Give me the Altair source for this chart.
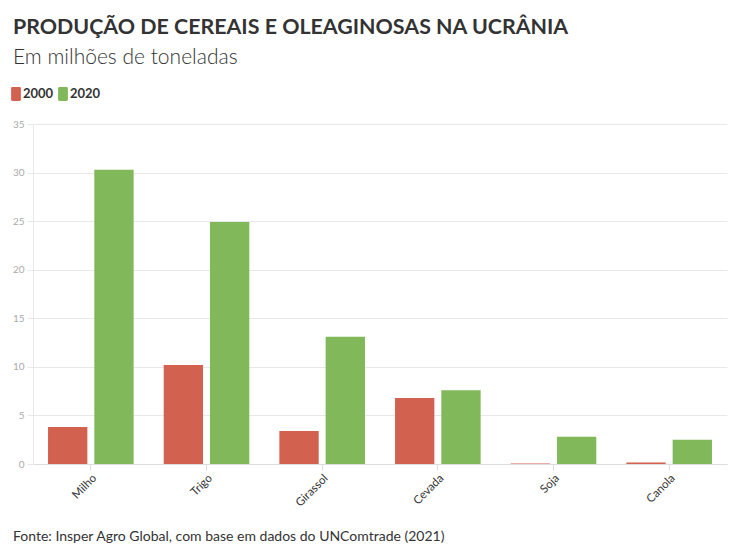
import altair as alt
import pandas as pd

categories = ["Milho", "Trigo", "Girassol", "Cevada", "Soja", "Canola"]
years = ["2000", "2020"]
values_2000 = [3.8, 10.2, 3.4, 6.8, 0.05, 0.15]
values_2020 = [30.3, 24.9, 13.1, 7.6, 2.8, 2.5]
colors = ["#d36150", "#80b85a"]
footer_text = ["Fonte: Insper Agro Global, com base em dados do UNComtrade (2021)"]

rows = []
for c, a, b in zip(categories, values_2000, values_2020):
    rows.append({"cat": c, "ano": "2000", "v": a})
    rows.append({"cat": c, "ano": "2020", "v": b})
df = pd.DataFrame(rows)

FONT = "Lato"
W, H = 694, 340

bars = alt.Chart(df).mark_bar().encode(
    x=alt.X("cat:N", sort=categories,
            scale=alt.Scale(paddingInner=0.26, paddingOuter=0.13),
            axis=alt.Axis(title=None, labelAngle=-45, labelFontSize=11.5, labelColor="#333333",
                          labelFont=FONT, tickColor="#dddddd", tickSize=6,
                          domainColor="#dddddd", labelPadding=2)),
    xOffset=alt.XOffset("ano:N", sort=years, scale=alt.Scale(paddingInner=0.15)),
    y=alt.Y("v:Q", scale=alt.Scale(domain=[0, 35], nice=False),
            axis=alt.Axis(title=None, values=[0, 5, 10, 15, 20, 25, 30, 35],
                          labelColor="#aaaaaa", labelFontSize=10, labelFont=FONT,
                          gridColor="#e8e8e8", tickColor="#e8e8e8", domainColor="#e8e8e8",
                          tickSize=6, labelPadding=3)),
    color=alt.Color("ano:N", sort=years, scale=alt.Scale(domain=years, range=colors),
                    legend=alt.Legend(title=None, orient="none", legendX=-24, legendY=-37,
                                      direction="horizontal",
                                      symbolType="M-0.5,-1 H0.5 A0.2,0.2 0 0 1 0.7,-0.8 V0.8 A0.2,0.2 0 0 1 0.5,1 H-0.5 A0.2,0.2 0 0 1 -0.7,0.8 V-0.8 A0.2,0.2 0 0 1 -0.5,-1 Z",
                                      symbolSize=196, symbolOpacity=1, symbolStrokeWidth=0,
                                      labelFont=FONT, labelFontSize=13, labelFontWeight="bold",
                                      labelColor="#333333", labelOffset=0, columnPadding=2)),
)

footer = alt.Chart(pd.DataFrame({"t": footer_text})).mark_text(
    align="left", baseline="middle", font=FONT, fontSize=14, color="#333333"
).encode(text="t:N", x=alt.value(-20), y=alt.value(H + 73))

chart = alt.layer(bars, footer).properties(
    width=W, height=H,
    autosize=alt.AutoSizeParams(type="none"),
    padding={"left": 25, "top": 116, "right": 10, "bottom": 85},
    title=alt.Title(
        text="PRODUÇÃO DE CEREAIS E OLEAGINOSAS NA UCRÂNIA",
        subtitle="Em milhões de toneladas",
        anchor="start", frame="group", orient="top", dx=-20, offset=19,
        font=FONT, fontSize=21.4, fontWeight="bold", color="#333333",
        subtitleFont=FONT, subtitleFontSize=21, subtitleColor="#333333",
        subtitleFontWeight=300, subtitlePadding=9,
    ),
).configure_view(stroke=None)

chart.save("out.html", embed_options={"renderer": "svg", "actions": False})
